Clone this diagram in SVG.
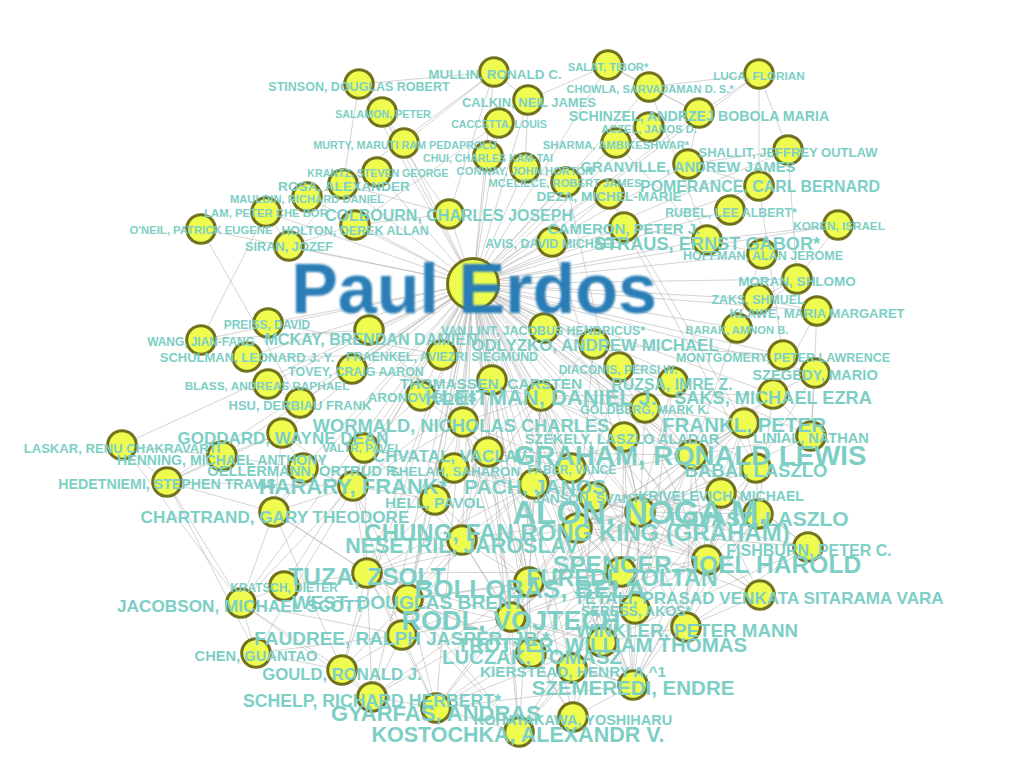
<svg xmlns="http://www.w3.org/2000/svg" width="1024" height="768" viewBox="0 0 1024 768">
<style>
.e{stroke:#a4a4a4;stroke-width:0.6;stroke-opacity:0.8;fill:none}
.n circle{fill:#eefc50;stroke:#72721e;stroke-width:3}
.l{font-family:"Liberation Sans",Arial,sans-serif;font-weight:bold;fill:#7dcfc5;text-anchor:middle}
.big{font-family:"Liberation Sans",Arial,sans-serif;font-weight:bold;fill:#2c7db6;text-anchor:middle}
</style>
<defs>
<filter id="soft" x="-5%" y="-20%" width="110%" height="140%"><feGaussianBlur stdDeviation="1.3"/></filter>
</defs>
<rect width="1024" height="768" fill="#ffffff"/>
<g id="connectors">
<g id="erdos-edges">
<line class="e" x1="473" y1="284" x2="359" y2="84"/>
<line class="e" x1="473" y1="284" x2="382" y2="112"/>
<line class="e" x1="473" y1="284" x2="404" y2="143"/>
<line class="e" x1="473" y1="284" x2="377" y2="172"/>
<line class="e" x1="473" y1="284" x2="343" y2="184"/>
<line class="e" x1="473" y1="284" x2="307" y2="197"/>
<line class="e" x1="473" y1="284" x2="266" y2="212"/>
<line class="e" x1="473" y1="284" x2="201" y2="229"/>
<line class="e" x1="473" y1="284" x2="355" y2="225"/>
<line class="e" x1="473" y1="284" x2="289" y2="246"/>
<line class="e" x1="473" y1="284" x2="494" y2="72"/>
<line class="e" x1="473" y1="284" x2="528" y2="100"/>
<line class="e" x1="473" y1="284" x2="499" y2="123"/>
<line class="e" x1="473" y1="284" x2="488" y2="156"/>
<line class="e" x1="473" y1="284" x2="525" y2="168"/>
<line class="e" x1="473" y1="284" x2="566" y2="182"/>
<line class="e" x1="473" y1="284" x2="609" y2="194"/>
<line class="e" x1="473" y1="284" x2="449" y2="214"/>
<line class="e" x1="473" y1="284" x2="552" y2="242"/>
<line class="e" x1="473" y1="284" x2="624" y2="227"/>
<line class="e" x1="473" y1="284" x2="707" y2="240"/>
<line class="e" x1="473" y1="284" x2="608" y2="65"/>
<line class="e" x1="473" y1="284" x2="649" y2="87"/>
<line class="e" x1="473" y1="284" x2="699" y2="113"/>
<line class="e" x1="473" y1="284" x2="649" y2="127"/>
<line class="e" x1="473" y1="284" x2="616" y2="143"/>
<line class="e" x1="473" y1="284" x2="688" y2="164"/>
<line class="e" x1="473" y1="284" x2="759" y2="186"/>
<line class="e" x1="473" y1="284" x2="730" y2="210"/>
<line class="e" x1="473" y1="284" x2="788" y2="150"/>
<line class="e" x1="473" y1="284" x2="759" y2="74"/>
<line class="e" x1="473" y1="284" x2="838" y2="225"/>
<line class="e" x1="473" y1="284" x2="762" y2="254"/>
<line class="e" x1="473" y1="284" x2="797" y2="279"/>
<line class="e" x1="473" y1="284" x2="758" y2="299"/>
<line class="e" x1="473" y1="284" x2="817" y2="311"/>
<line class="e" x1="473" y1="284" x2="737" y2="328"/>
<line class="e" x1="473" y1="284" x2="783" y2="355"/>
<line class="e" x1="473" y1="284" x2="815" y2="373"/>
<line class="e" x1="473" y1="284" x2="773" y2="394"/>
<line class="e" x1="473" y1="284" x2="744" y2="423"/>
<line class="e" x1="473" y1="284" x2="811" y2="436"/>
<line class="e" x1="473" y1="284" x2="692" y2="455"/>
<line class="e" x1="473" y1="284" x2="756" y2="468"/>
<line class="e" x1="473" y1="284" x2="721" y2="493"/>
<line class="e" x1="473" y1="284" x2="758" y2="514"/>
<line class="e" x1="473" y1="284" x2="640" y2="512"/>
<line class="e" x1="473" y1="284" x2="577" y2="528"/>
<line class="e" x1="473" y1="284" x2="594" y2="497"/>
<line class="e" x1="473" y1="284" x2="624" y2="437"/>
<line class="e" x1="473" y1="284" x2="645" y2="408"/>
<line class="e" x1="473" y1="284" x2="673" y2="382"/>
<line class="e" x1="473" y1="284" x2="619" y2="367"/>
<line class="e" x1="473" y1="284" x2="594" y2="344"/>
<line class="e" x1="473" y1="284" x2="544" y2="328"/>
<line class="e" x1="473" y1="284" x2="369" y2="330"/>
<line class="e" x1="473" y1="284" x2="268" y2="323"/>
<line class="e" x1="473" y1="284" x2="201" y2="340"/>
<line class="e" x1="473" y1="284" x2="247" y2="357"/>
<line class="e" x1="473" y1="284" x2="442" y2="355"/>
<line class="e" x1="473" y1="284" x2="352" y2="369"/>
<line class="e" x1="473" y1="284" x2="268" y2="384"/>
<line class="e" x1="473" y1="284" x2="300" y2="403"/>
<line class="e" x1="473" y1="284" x2="492" y2="380"/>
<line class="e" x1="473" y1="284" x2="421" y2="396"/>
<line class="e" x1="473" y1="284" x2="541" y2="396"/>
<line class="e" x1="473" y1="284" x2="463" y2="422"/>
<line class="e" x1="473" y1="284" x2="282" y2="433"/>
<line class="e" x1="473" y1="284" x2="122" y2="445"/>
<line class="e" x1="473" y1="284" x2="222" y2="456"/>
<line class="e" x1="473" y1="284" x2="364" y2="448"/>
<line class="e" x1="473" y1="284" x2="488" y2="452"/>
<line class="e" x1="473" y1="284" x2="454" y2="468"/>
<line class="e" x1="473" y1="284" x2="571" y2="468"/>
<line class="e" x1="473" y1="284" x2="303" y2="468"/>
<line class="e" x1="473" y1="284" x2="353" y2="486"/>
<line class="e" x1="473" y1="284" x2="534" y2="484"/>
<line class="e" x1="473" y1="284" x2="435" y2="500"/>
<line class="e" x1="473" y1="284" x2="167" y2="482"/>
<line class="e" x1="473" y1="284" x2="274" y2="512"/>
<line class="e" x1="473" y1="284" x2="462" y2="540"/>
<line class="e" x1="473" y1="284" x2="367" y2="573"/>
<line class="e" x1="473" y1="284" x2="284" y2="586"/>
<line class="e" x1="473" y1="284" x2="241" y2="603"/>
<line class="e" x1="473" y1="284" x2="408" y2="599"/>
<line class="e" x1="473" y1="284" x2="529" y2="582"/>
<line class="e" x1="473" y1="284" x2="621" y2="572"/>
<line class="e" x1="473" y1="284" x2="707" y2="560"/>
<line class="e" x1="473" y1="284" x2="808" y2="547"/>
<line class="e" x1="473" y1="284" x2="760" y2="595"/>
<line class="e" x1="473" y1="284" x2="635" y2="609"/>
<line class="e" x1="473" y1="284" x2="686" y2="627"/>
<line class="e" x1="473" y1="284" x2="511" y2="617"/>
<line class="e" x1="473" y1="284" x2="402" y2="635"/>
<line class="e" x1="473" y1="284" x2="602" y2="642"/>
<line class="e" x1="473" y1="284" x2="531" y2="653"/>
<line class="e" x1="473" y1="284" x2="572" y2="668"/>
<line class="e" x1="473" y1="284" x2="342" y2="670"/>
<line class="e" x1="473" y1="284" x2="256" y2="653"/>
<line class="e" x1="473" y1="284" x2="633" y2="685"/>
<line class="e" x1="473" y1="284" x2="372" y2="697"/>
<line class="e" x1="473" y1="284" x2="436" y2="708"/>
<line class="e" x1="473" y1="284" x2="573" y2="717"/>
<line class="e" x1="473" y1="284" x2="519" y2="732"/>
</g>
<g id="coauthor-edges">
<line class="e" x1="359" y1="84" x2="494" y2="72"/>
<line class="e" x1="359" y1="84" x2="343" y2="184"/>
<line class="e" x1="359" y1="84" x2="449" y2="214"/>
<line class="e" x1="494" y1="72" x2="449" y2="214"/>
<line class="e" x1="494" y1="72" x2="343" y2="184"/>
<line class="e" x1="494" y1="72" x2="528" y2="100"/>
<line class="e" x1="343" y1="184" x2="449" y2="214"/>
<line class="e" x1="449" y1="214" x2="355" y2="225"/>
<line class="e" x1="355" y1="225" x2="289" y2="246"/>
<line class="e" x1="289" y1="246" x2="343" y2="184"/>
<line class="e" x1="499" y1="123" x2="355" y2="225"/>
<line class="e" x1="382" y1="112" x2="359" y2="84"/>
<line class="e" x1="404" y1="143" x2="382" y2="112"/>
<line class="e" x1="377" y1="172" x2="307" y2="197"/>
<line class="e" x1="266" y1="212" x2="201" y2="340"/>
<line class="e" x1="201" y1="229" x2="300" y2="403"/>
<line class="e" x1="266" y1="212" x2="289" y2="246"/>
<line class="e" x1="525" y1="168" x2="528" y2="100"/>
<line class="e" x1="525" y1="168" x2="566" y2="182"/>
<line class="e" x1="488" y1="156" x2="499" y2="123"/>
<line class="e" x1="528" y1="100" x2="608" y2="65"/>
<line class="e" x1="494" y1="72" x2="404" y2="143"/>
<line class="e" x1="759" y1="74" x2="759" y2="186"/>
<line class="e" x1="759" y1="74" x2="788" y2="150"/>
<line class="e" x1="759" y1="74" x2="699" y2="113"/>
<line class="e" x1="759" y1="74" x2="649" y2="87"/>
<line class="e" x1="759" y1="186" x2="688" y2="164"/>
<line class="e" x1="759" y1="186" x2="788" y2="150"/>
<line class="e" x1="759" y1="186" x2="730" y2="210"/>
<line class="e" x1="759" y1="186" x2="707" y2="240"/>
<line class="e" x1="688" y1="164" x2="788" y2="150"/>
<line class="e" x1="688" y1="164" x2="699" y2="113"/>
<line class="e" x1="699" y1="113" x2="649" y2="87"/>
<line class="e" x1="699" y1="113" x2="649" y2="127"/>
<line class="e" x1="608" y1="65" x2="699" y2="113"/>
<line class="e" x1="608" y1="65" x2="649" y2="87"/>
<line class="e" x1="649" y1="87" x2="707" y2="240"/>
<line class="e" x1="707" y1="240" x2="730" y2="210"/>
<line class="e" x1="707" y1="240" x2="838" y2="225"/>
<line class="e" x1="707" y1="240" x2="762" y2="254"/>
<line class="e" x1="707" y1="240" x2="624" y2="227"/>
<line class="e" x1="616" y1="143" x2="649" y2="127"/>
<line class="e" x1="616" y1="143" x2="707" y2="240"/>
<line class="e" x1="838" y1="225" x2="797" y2="279"/>
<line class="e" x1="788" y1="150" x2="797" y2="279"/>
<line class="e" x1="797" y1="279" x2="758" y2="299"/>
<line class="e" x1="758" y1="299" x2="817" y2="311"/>
<line class="e" x1="817" y1="311" x2="773" y2="394"/>
<line class="e" x1="817" y1="311" x2="811" y2="436"/>
<line class="e" x1="737" y1="328" x2="797" y2="279"/>
<line class="e" x1="783" y1="355" x2="594" y2="344"/>
<line class="e" x1="783" y1="355" x2="759" y2="186"/>
<line class="e" x1="815" y1="373" x2="756" y2="468"/>
<line class="e" x1="815" y1="373" x2="773" y2="394"/>
<line class="e" x1="815" y1="373" x2="811" y2="436"/>
<line class="e" x1="773" y1="394" x2="811" y2="436"/>
<line class="e" x1="773" y1="394" x2="541" y2="396"/>
<line class="e" x1="773" y1="394" x2="640" y2="512"/>
<line class="e" x1="811" y1="436" x2="640" y2="512"/>
<line class="e" x1="744" y1="423" x2="621" y2="572"/>
<line class="e" x1="744" y1="423" x2="756" y2="468"/>
<line class="e" x1="744" y1="423" x2="640" y2="512"/>
<line class="e" x1="744" y1="423" x2="511" y2="617"/>
<line class="e" x1="744" y1="423" x2="692" y2="455"/>
<line class="e" x1="744" y1="423" x2="577" y2="528"/>
<line class="e" x1="609" y1="194" x2="624" y2="227"/>
<line class="e" x1="609" y1="194" x2="744" y2="423"/>
<line class="e" x1="609" y1="194" x2="552" y2="242"/>
<line class="e" x1="624" y1="227" x2="756" y2="468"/>
<line class="e" x1="762" y1="254" x2="692" y2="455"/>
<line class="e" x1="692" y1="455" x2="577" y2="528"/>
<line class="e" x1="692" y1="455" x2="707" y2="560"/>
<line class="e" x1="692" y1="455" x2="619" y2="367"/>
<line class="e" x1="692" y1="455" x2="594" y2="344"/>
<line class="e" x1="692" y1="455" x2="511" y2="617"/>
<line class="e" x1="692" y1="455" x2="602" y2="642"/>
<line class="e" x1="692" y1="455" x2="686" y2="627"/>
<line class="e" x1="692" y1="455" x2="808" y2="547"/>
<line class="e" x1="692" y1="455" x2="534" y2="484"/>
<line class="e" x1="577" y1="528" x2="808" y2="547"/>
<line class="e" x1="577" y1="528" x2="707" y2="560"/>
<line class="e" x1="577" y1="528" x2="640" y2="512"/>
<line class="e" x1="577" y1="528" x2="619" y2="367"/>
<line class="e" x1="577" y1="528" x2="541" y2="396"/>
<line class="e" x1="577" y1="528" x2="633" y2="685"/>
<line class="e" x1="577" y1="528" x2="602" y2="642"/>
<line class="e" x1="577" y1="528" x2="760" y2="595"/>
<line class="e" x1="640" y1="512" x2="707" y2="560"/>
<line class="e" x1="640" y1="512" x2="621" y2="572"/>
<line class="e" x1="640" y1="512" x2="721" y2="493"/>
<line class="e" x1="640" y1="512" x2="756" y2="468"/>
<line class="e" x1="640" y1="512" x2="758" y2="514"/>
<line class="e" x1="640" y1="512" x2="541" y2="396"/>
<line class="e" x1="640" y1="512" x2="534" y2="484"/>
<line class="e" x1="640" y1="512" x2="511" y2="617"/>
<line class="e" x1="640" y1="512" x2="760" y2="595"/>
<line class="e" x1="640" y1="512" x2="635" y2="609"/>
<line class="e" x1="640" y1="512" x2="573" y2="717"/>
<line class="e" x1="640" y1="512" x2="633" y2="685"/>
<line class="e" x1="640" y1="512" x2="594" y2="497"/>
<line class="e" x1="640" y1="512" x2="531" y2="653"/>
<line class="e" x1="640" y1="512" x2="673" y2="382"/>
<line class="e" x1="640" y1="512" x2="529" y2="582"/>
<line class="e" x1="640" y1="512" x2="367" y2="573"/>
<line class="e" x1="640" y1="512" x2="462" y2="540"/>
<line class="e" x1="640" y1="512" x2="645" y2="408"/>
<line class="e" x1="640" y1="512" x2="624" y2="437"/>
<line class="e" x1="758" y1="514" x2="756" y2="468"/>
<line class="e" x1="758" y1="514" x2="534" y2="484"/>
<line class="e" x1="758" y1="514" x2="633" y2="685"/>
<line class="e" x1="758" y1="514" x2="773" y2="394"/>
<line class="e" x1="756" y1="468" x2="635" y2="609"/>
<line class="e" x1="756" y1="468" x2="633" y2="685"/>
<line class="e" x1="721" y1="493" x2="531" y2="653"/>
<line class="e" x1="721" y1="493" x2="707" y2="560"/>
<line class="e" x1="707" y1="560" x2="594" y2="497"/>
<line class="e" x1="707" y1="560" x2="531" y2="653"/>
<line class="e" x1="707" y1="560" x2="534" y2="484"/>
<line class="e" x1="707" y1="560" x2="686" y2="627"/>
<line class="e" x1="707" y1="560" x2="760" y2="595"/>
<line class="e" x1="707" y1="560" x2="633" y2="685"/>
<line class="e" x1="808" y1="547" x2="602" y2="642"/>
<line class="e" x1="808" y1="547" x2="686" y2="627"/>
<line class="e" x1="602" y1="642" x2="572" y2="668"/>
<line class="e" x1="602" y1="642" x2="686" y2="627"/>
<line class="e" x1="572" y1="668" x2="633" y2="685"/>
<line class="e" x1="572" y1="668" x2="519" y2="732"/>
<line class="e" x1="633" y1="685" x2="511" y2="617"/>
<line class="e" x1="633" y1="685" x2="621" y2="572"/>
<line class="e" x1="633" y1="685" x2="573" y2="717"/>
<line class="e" x1="633" y1="685" x2="531" y2="653"/>
<line class="e" x1="633" y1="685" x2="436" y2="708"/>
<line class="e" x1="633" y1="685" x2="534" y2="484"/>
<line class="e" x1="511" y1="617" x2="573" y2="717"/>
<line class="e" x1="511" y1="617" x2="531" y2="653"/>
<line class="e" x1="511" y1="617" x2="519" y2="732"/>
<line class="e" x1="511" y1="617" x2="462" y2="540"/>
<line class="e" x1="511" y1="617" x2="367" y2="573"/>
<line class="e" x1="511" y1="617" x2="529" y2="582"/>
<line class="e" x1="511" y1="617" x2="621" y2="572"/>
<line class="e" x1="621" y1="572" x2="519" y2="732"/>
<line class="e" x1="621" y1="572" x2="436" y2="708"/>
<line class="e" x1="621" y1="572" x2="367" y2="573"/>
<line class="e" x1="621" y1="572" x2="534" y2="484"/>
<line class="e" x1="621" y1="572" x2="541" y2="396"/>
<line class="e" x1="621" y1="572" x2="408" y2="599"/>
<line class="e" x1="519" y1="732" x2="408" y2="599"/>
<line class="e" x1="519" y1="732" x2="436" y2="708"/>
<line class="e" x1="408" y1="599" x2="367" y2="573"/>
<line class="e" x1="408" y1="599" x2="436" y2="708"/>
<line class="e" x1="408" y1="599" x2="572" y2="668"/>
<line class="e" x1="408" y1="599" x2="602" y2="642"/>
<line class="e" x1="436" y1="708" x2="402" y2="635"/>
<line class="e" x1="436" y1="708" x2="372" y2="697"/>
<line class="e" x1="436" y1="708" x2="367" y2="573"/>
<line class="e" x1="402" y1="635" x2="372" y2="697"/>
<line class="e" x1="402" y1="635" x2="342" y2="670"/>
<line class="e" x1="402" y1="635" x2="241" y2="603"/>
<line class="e" x1="402" y1="635" x2="256" y2="653"/>
<line class="e" x1="402" y1="635" x2="511" y2="617"/>
<line class="e" x1="402" y1="635" x2="353" y2="486"/>
<line class="e" x1="372" y1="697" x2="342" y2="670"/>
<line class="e" x1="372" y1="697" x2="241" y2="603"/>
<line class="e" x1="342" y1="670" x2="241" y2="603"/>
<line class="e" x1="342" y1="670" x2="256" y2="653"/>
<line class="e" x1="241" y1="603" x2="122" y2="445"/>
<line class="e" x1="241" y1="603" x2="167" y2="482"/>
<line class="e" x1="241" y1="603" x2="256" y2="653"/>
<line class="e" x1="241" y1="603" x2="274" y2="512"/>
<line class="e" x1="241" y1="603" x2="353" y2="486"/>
<line class="e" x1="241" y1="603" x2="284" y2="586"/>
<line class="e" x1="256" y1="653" x2="167" y2="482"/>
<line class="e" x1="353" y1="486" x2="274" y2="512"/>
<line class="e" x1="353" y1="486" x2="167" y2="482"/>
<line class="e" x1="353" y1="486" x2="303" y2="468"/>
<line class="e" x1="353" y1="486" x2="463" y2="422"/>
<line class="e" x1="353" y1="486" x2="282" y2="433"/>
<line class="e" x1="274" y1="512" x2="303" y2="468"/>
<line class="e" x1="274" y1="512" x2="282" y2="433"/>
<line class="e" x1="274" y1="512" x2="167" y2="482"/>
<line class="e" x1="303" y1="468" x2="282" y2="433"/>
<line class="e" x1="303" y1="468" x2="222" y2="456"/>
<line class="e" x1="282" y1="433" x2="222" y2="456"/>
<line class="e" x1="282" y1="433" x2="167" y2="482"/>
<line class="e" x1="222" y1="456" x2="167" y2="482"/>
<line class="e" x1="222" y1="456" x2="122" y2="445"/>
<line class="e" x1="122" y1="445" x2="167" y2="482"/>
<line class="e" x1="367" y1="573" x2="462" y2="540"/>
<line class="e" x1="462" y1="540" x2="435" y2="500"/>
<line class="e" x1="462" y1="540" x2="534" y2="484"/>
<line class="e" x1="462" y1="540" x2="364" y2="448"/>
<line class="e" x1="534" y1="484" x2="364" y2="448"/>
<line class="e" x1="534" y1="484" x2="421" y2="396"/>
<line class="e" x1="534" y1="484" x2="624" y2="437"/>
<line class="e" x1="421" y1="396" x2="364" y2="448"/>
<line class="e" x1="463" y1="422" x2="369" y2="330"/>
<line class="e" x1="369" y1="330" x2="201" y2="340"/>
<line class="e" x1="492" y1="380" x2="463" y2="422"/>
<line class="e" x1="541" y1="396" x2="594" y2="344"/>
<line class="e" x1="594" y1="497" x2="531" y2="653"/>
<line class="e" x1="529" y1="582" x2="531" y2="653"/>
<line class="e" x1="529" y1="582" x2="492" y2="380"/>
<line class="e" x1="686" y1="627" x2="760" y2="595"/>
<line class="e" x1="541" y1="396" x2="454" y2="468"/>
<line class="e" x1="488" y1="452" x2="571" y2="468"/>
<line class="e" x1="488" y1="452" x2="692" y2="455"/>
<line class="e" x1="435" y1="500" x2="488" y2="452"/>
<line class="e" x1="645" y1="408" x2="744" y2="423"/>
<line class="e" x1="300" y1="403" x2="268" y2="384"/>
<line class="e" x1="247" y1="357" x2="442" y2="355"/>
<line class="e" x1="268" y1="323" x2="442" y2="355"/>
<line class="e" x1="352" y1="369" x2="541" y2="396"/>
<line class="e" x1="544" y1="328" x2="692" y2="455"/>
<line class="e" x1="552" y1="242" x2="640" y2="512"/>
<line class="e" x1="566" y1="182" x2="640" y2="512"/>
<line class="e" x1="284" y1="586" x2="367" y2="573"/>
<line class="e" x1="408" y1="599" x2="353" y2="486"/>
<line class="e" x1="454" y1="468" x2="640" y2="512"/>
<line class="e" x1="541" y1="396" x2="463" y2="422"/>
<line class="e" x1="541" y1="396" x2="492" y2="380"/>
<line class="e" x1="541" y1="396" x2="534" y2="484"/>
<line class="e" x1="541" y1="396" x2="645" y2="408"/>
<line class="e" x1="541" y1="396" x2="624" y2="437"/>
<line class="e" x1="541" y1="396" x2="529" y2="582"/>
<line class="e" x1="541" y1="396" x2="408" y2="599"/>
<line class="e" x1="541" y1="396" x2="692" y2="455"/>
<line class="e" x1="492" y1="380" x2="353" y2="486"/>
<line class="e" x1="492" y1="380" x2="488" y2="452"/>
<line class="e" x1="492" y1="380" x2="462" y2="540"/>
<line class="e" x1="492" y1="380" x2="367" y2="573"/>
<line class="e" x1="463" y1="422" x2="488" y2="452"/>
<line class="e" x1="463" y1="422" x2="571" y2="468"/>
<line class="e" x1="463" y1="422" x2="511" y2="617"/>
<line class="e" x1="463" y1="422" x2="529" y2="582"/>
<line class="e" x1="463" y1="422" x2="531" y2="653"/>
<line class="e" x1="488" y1="452" x2="633" y2="685"/>
<line class="e" x1="488" y1="452" x2="462" y2="540"/>
<line class="e" x1="488" y1="452" x2="529" y2="582"/>
<line class="e" x1="454" y1="468" x2="435" y2="500"/>
<line class="e" x1="454" y1="468" x2="707" y2="560"/>
<line class="e" x1="571" y1="468" x2="577" y2="528"/>
<line class="e" x1="571" y1="468" x2="534" y2="484"/>
<line class="e" x1="534" y1="484" x2="529" y2="582"/>
<line class="e" x1="534" y1="484" x2="367" y2="573"/>
<line class="e" x1="534" y1="484" x2="511" y2="617"/>
<line class="e" x1="534" y1="484" x2="408" y2="599"/>
<line class="e" x1="435" y1="500" x2="367" y2="573"/>
<line class="e" x1="435" y1="500" x2="529" y2="582"/>
<line class="e" x1="435" y1="500" x2="408" y2="599"/>
<line class="e" x1="594" y1="497" x2="529" y2="582"/>
<line class="e" x1="594" y1="497" x2="511" y2="617"/>
<line class="e" x1="594" y1="497" x2="573" y2="717"/>
<line class="e" x1="624" y1="437" x2="707" y2="560"/>
<line class="e" x1="624" y1="437" x2="621" y2="572"/>
<line class="e" x1="624" y1="437" x2="633" y2="685"/>
<line class="e" x1="645" y1="408" x2="577" y2="528"/>
<line class="e" x1="673" y1="382" x2="692" y2="455"/>
<line class="e" x1="673" y1="382" x2="633" y2="685"/>
<line class="e" x1="619" y1="367" x2="707" y2="560"/>
<line class="e" x1="594" y1="344" x2="577" y2="528"/>
<line class="e" x1="462" y1="540" x2="529" y2="582"/>
<line class="e" x1="462" y1="540" x2="408" y2="599"/>
<line class="e" x1="462" y1="540" x2="402" y2="635"/>
<line class="e" x1="462" y1="540" x2="531" y2="653"/>
<line class="e" x1="529" y1="582" x2="408" y2="599"/>
<line class="e" x1="529" y1="582" x2="621" y2="572"/>
<line class="e" x1="529" y1="582" x2="436" y2="708"/>
<line class="e" x1="529" y1="582" x2="402" y2="635"/>
<line class="e" x1="529" y1="582" x2="372" y2="697"/>
<line class="e" x1="529" y1="582" x2="519" y2="732"/>
<line class="e" x1="367" y1="573" x2="402" y2="635"/>
<line class="e" x1="367" y1="573" x2="372" y2="697"/>
<line class="e" x1="367" y1="573" x2="519" y2="732"/>
<line class="e" x1="367" y1="573" x2="353" y2="486"/>
<line class="e" x1="408" y1="599" x2="531" y2="653"/>
<line class="e" x1="408" y1="599" x2="342" y2="670"/>
<line class="e" x1="408" y1="599" x2="274" y2="512"/>
<line class="e" x1="511" y1="617" x2="436" y2="708"/>
<line class="e" x1="511" y1="617" x2="372" y2="697"/>
<line class="e" x1="511" y1="617" x2="602" y2="642"/>
<line class="e" x1="511" y1="617" x2="707" y2="560"/>
<line class="e" x1="621" y1="572" x2="602" y2="642"/>
<line class="e" x1="621" y1="572" x2="572" y2="668"/>
<line class="e" x1="621" y1="572" x2="635" y2="609"/>
<line class="e" x1="621" y1="572" x2="707" y2="560"/>
<line class="e" x1="602" y1="642" x2="519" y2="732"/>
<line class="e" x1="602" y1="642" x2="436" y2="708"/>
<line class="e" x1="531" y1="653" x2="573" y2="717"/>
<line class="e" x1="531" y1="653" x2="436" y2="708"/>
<line class="e" x1="342" y1="670" x2="367" y2="573"/>
<line class="e" x1="577" y1="528" x2="686" y2="627"/>
<line class="e" x1="577" y1="528" x2="529" y2="582"/>
<line class="e" x1="577" y1="528" x2="531" y2="653"/>
<line class="e" x1="640" y1="512" x2="602" y2="642"/>
<line class="e" x1="640" y1="512" x2="808" y2="547"/>
<line class="e" x1="640" y1="512" x2="686" y2="627"/>
<line class="e" x1="692" y1="455" x2="760" y2="595"/>
<line class="e" x1="692" y1="455" x2="635" y2="609"/>
<line class="e" x1="692" y1="455" x2="758" y2="514"/>
<line class="e" x1="756" y1="468" x2="707" y2="560"/>
<line class="e" x1="758" y1="514" x2="707" y2="560"/>
<line class="e" x1="758" y1="514" x2="686" y2="627"/>
<line class="e" x1="721" y1="493" x2="621" y2="572"/>
<line class="e" x1="744" y1="423" x2="707" y2="560"/>
<line class="e" x1="744" y1="423" x2="633" y2="685"/>
<line class="e" x1="773" y1="394" x2="692" y2="455"/>
<line class="e" x1="811" y1="436" x2="692" y2="455"/>
<line class="e" x1="353" y1="486" x2="435" y2="500"/>
<line class="e" x1="364" y1="448" x2="367" y2="573"/>
<line class="e" x1="274" y1="512" x2="367" y2="573"/>
<line class="e" x1="274" y1="512" x2="342" y2="670"/>
</g>
</g>
<g id="nodes">
<g id="n-erdos" class="n"><circle cx="473" cy="284" r="25.5"/></g>
<g id="n-stinson" class="n"><circle cx="359" cy="84" r="14.3"/></g>
<g id="n-salamon" class="n"><circle cx="382" cy="112" r="14.3"/></g>
<g id="n-murty" class="n"><circle cx="404" cy="143" r="14.3"/></g>
<g id="n-krantz" class="n"><circle cx="377" cy="172" r="14.3"/></g>
<g id="n-rosa" class="n"><circle cx="343" cy="184" r="14.3"/></g>
<g id="n-mauldin" class="n"><circle cx="307" cy="197" r="14.3"/></g>
<g id="n-lam" class="n"><circle cx="266" cy="212" r="14.3"/></g>
<g id="n-oneil" class="n"><circle cx="201" cy="229" r="14.3"/></g>
<g id="n-holton" class="n"><circle cx="355" cy="225" r="14.3"/></g>
<g id="n-siran" class="n"><circle cx="289" cy="246" r="14.3"/></g>
<g id="n-mullin" class="n"><circle cx="494" cy="72" r="14.3"/></g>
<g id="n-calkin" class="n"><circle cx="528" cy="100" r="14.3"/></g>
<g id="n-caccetta" class="n"><circle cx="499" cy="123" r="14.3"/></g>
<g id="n-chui" class="n"><circle cx="488" cy="156" r="14.3"/></g>
<g id="n-conway" class="n"><circle cx="525" cy="168" r="14.3"/></g>
<g id="n-mceliece" class="n"><circle cx="566" cy="182" r="14.3"/></g>
<g id="n-deza" class="n"><circle cx="609" cy="194" r="14.3"/></g>
<g id="n-colbourn" class="n"><circle cx="449" cy="214" r="14.3"/></g>
<g id="n-avis" class="n"><circle cx="552" cy="242" r="14.3"/></g>
<g id="n-cameron" class="n"><circle cx="624" cy="227" r="14.3"/></g>
<g id="n-straus" class="n"><circle cx="707" cy="240" r="14.3"/></g>
<g id="n-salat" class="n"><circle cx="608" cy="65" r="14.3"/></g>
<g id="n-chowla" class="n"><circle cx="649" cy="87" r="14.3"/></g>
<g id="n-schinzel" class="n"><circle cx="699" cy="113" r="14.3"/></g>
<g id="n-aczel" class="n"><circle cx="649" cy="127" r="14.3"/></g>
<g id="n-sharma" class="n"><circle cx="616" cy="143" r="14.3"/></g>
<g id="n-granville" class="n"><circle cx="688" cy="164" r="14.3"/></g>
<g id="n-pomerance" class="n"><circle cx="759" cy="186" r="14.3"/></g>
<g id="n-rubel" class="n"><circle cx="730" cy="210" r="14.3"/></g>
<g id="n-shallit" class="n"><circle cx="788" cy="150" r="14.3"/></g>
<g id="n-luca" class="n"><circle cx="759" cy="74" r="14.3"/></g>
<g id="n-koren" class="n"><circle cx="838" cy="225" r="14.3"/></g>
<g id="n-hoffman" class="n"><circle cx="762" cy="254" r="14.3"/></g>
<g id="n-moran" class="n"><circle cx="797" cy="279" r="14.3"/></g>
<g id="n-zaks" class="n"><circle cx="758" cy="299" r="14.3"/></g>
<g id="n-klawe" class="n"><circle cx="817" cy="311" r="14.3"/></g>
<g id="n-barak" class="n"><circle cx="737" cy="328" r="14.3"/></g>
<g id="n-montgomery" class="n"><circle cx="783" cy="355" r="14.3"/></g>
<g id="n-szegedy" class="n"><circle cx="815" cy="373" r="14.3"/></g>
<g id="n-saks" class="n"><circle cx="773" cy="394" r="14.3"/></g>
<g id="n-frankl" class="n"><circle cx="744" cy="423" r="14.3"/></g>
<g id="n-linial" class="n"><circle cx="811" cy="436" r="14.3"/></g>
<g id="n-graham" class="n"><circle cx="692" cy="455" r="14.3"/></g>
<g id="n-babai" class="n"><circle cx="756" cy="468" r="14.3"/></g>
<g id="n-krivelevich" class="n"><circle cx="721" cy="493" r="14.3"/></g>
<g id="n-lovasz" class="n"><circle cx="758" cy="514" r="14.3"/></g>
<g id="n-alon" class="n"><circle cx="640" cy="512" r="14.3"/></g>
<g id="n-chung" class="n"><circle cx="577" cy="528" r="14.3"/></g>
<g id="n-janson" class="n"><circle cx="594" cy="497" r="14.3"/></g>
<g id="n-szekely" class="n"><circle cx="624" cy="437" r="14.3"/></g>
<g id="n-goldberg" class="n"><circle cx="645" cy="408" r="14.3"/></g>
<g id="n-ruzsa" class="n"><circle cx="673" cy="382" r="14.3"/></g>
<g id="n-diaconis" class="n"><circle cx="619" cy="367" r="14.3"/></g>
<g id="n-odlyzko" class="n"><circle cx="594" cy="344" r="14.3"/></g>
<g id="n-vanlint" class="n"><circle cx="544" cy="328" r="14.3"/></g>
<g id="n-mckay" class="n"><circle cx="369" cy="330" r="14.3"/></g>
<g id="n-preiss" class="n"><circle cx="268" cy="323" r="14.3"/></g>
<g id="n-wang" class="n"><circle cx="201" cy="340" r="14.3"/></g>
<g id="n-schulman" class="n"><circle cx="247" cy="357" r="14.3"/></g>
<g id="n-fraenkel" class="n"><circle cx="442" cy="355" r="14.3"/></g>
<g id="n-tovey" class="n"><circle cx="352" cy="369" r="14.3"/></g>
<g id="n-blass" class="n"><circle cx="268" cy="384" r="14.3"/></g>
<g id="n-hsu" class="n"><circle cx="300" cy="403" r="14.3"/></g>
<g id="n-thomassen" class="n"><circle cx="492" cy="380" r="14.3"/></g>
<g id="n-aronov" class="n"><circle cx="421" cy="396" r="14.3"/></g>
<g id="n-kleitman" class="n"><circle cx="541" cy="396" r="14.3"/></g>
<g id="n-wormald" class="n"><circle cx="463" cy="422" r="14.3"/></g>
<g id="n-goddard" class="n"><circle cx="282" cy="433" r="14.3"/></g>
<g id="n-laskar" class="n"><circle cx="122" cy="445" r="14.3"/></g>
<g id="n-henning" class="n"><circle cx="222" cy="456" r="14.3"/></g>
<g id="n-valtr" class="n"><circle cx="364" cy="448" r="14.3"/></g>
<g id="n-chvatal" class="n"><circle cx="488" cy="452" r="14.3"/></g>
<g id="n-shelah" class="n"><circle cx="454" cy="468" r="14.3"/></g>
<g id="n-faber" class="n"><circle cx="571" cy="468" r="14.3"/></g>
<g id="n-oellermann" class="n"><circle cx="303" cy="468" r="14.3"/></g>
<g id="n-harary" class="n"><circle cx="353" cy="486" r="14.3"/></g>
<g id="n-pach" class="n"><circle cx="534" cy="484" r="14.3"/></g>
<g id="n-hell" class="n"><circle cx="435" cy="500" r="14.3"/></g>
<g id="n-hedetniemi" class="n"><circle cx="167" cy="482" r="14.3"/></g>
<g id="n-chartrand" class="n"><circle cx="274" cy="512" r="14.3"/></g>
<g id="n-nesetril" class="n"><circle cx="462" cy="540" r="14.3"/></g>
<g id="n-tuza" class="n"><circle cx="367" cy="573" r="14.3"/></g>
<g id="n-kratsch" class="n"><circle cx="284" cy="586" r="14.3"/></g>
<g id="n-jacobson" class="n"><circle cx="241" cy="603" r="14.3"/></g>
<g id="n-west" class="n"><circle cx="408" cy="599" r="14.3"/></g>
<g id="n-bollobas" class="n"><circle cx="529" cy="582" r="14.3"/></g>
<g id="n-furedi" class="n"><circle cx="621" cy="572" r="14.3"/></g>
<g id="n-spencer" class="n"><circle cx="707" cy="560" r="14.3"/></g>
<g id="n-fishburn" class="n"><circle cx="808" cy="547" r="14.3"/></g>
<g id="n-tetali" class="n"><circle cx="760" cy="595" r="14.3"/></g>
<g id="n-seress" class="n"><circle cx="635" cy="609" r="14.3"/></g>
<g id="n-winkler" class="n"><circle cx="686" cy="627" r="14.3"/></g>
<g id="n-rodl" class="n"><circle cx="511" cy="617" r="14.3"/></g>
<g id="n-faudree" class="n"><circle cx="402" cy="635" r="14.3"/></g>
<g id="n-trotter" class="n"><circle cx="602" cy="642" r="14.3"/></g>
<g id="n-luczak" class="n"><circle cx="531" cy="653" r="14.3"/></g>
<g id="n-kierstead" class="n"><circle cx="572" cy="668" r="14.3"/></g>
<g id="n-gould" class="n"><circle cx="342" cy="670" r="14.3"/></g>
<g id="n-chen" class="n"><circle cx="256" cy="653" r="14.3"/></g>
<g id="n-szemeredi" class="n"><circle cx="633" cy="685" r="14.3"/></g>
<g id="n-schelp" class="n"><circle cx="372" cy="697" r="14.3"/></g>
<g id="n-gyarfas" class="n"><circle cx="436" cy="708" r="14.3"/></g>
<g id="n-kohayakawa" class="n"><circle cx="573" cy="717" r="14.3"/></g>
<g id="n-kostochka" class="n"><circle cx="519" cy="732" r="14.3"/></g>
</g>
<g id="node-labels">
<text id="t-stinson" class="l" x="359" y="90.5" font-size="12.5">STINSON, DOUGLAS ROBERT</text>
<text id="t-salamon" class="l" x="383" y="117.9" font-size="10.7">SALAMON, PETER</text>
<text id="t-murty" class="l" x="405" y="148.9" font-size="10.8">MURTY, MARUTI RAM PEDAPROLU</text>
<text id="t-krantz" class="l" x="378" y="176.8" font-size="10.6">KRANTZ, STEVEN GEORGE</text>
<text id="t-rosa" class="l" x="344" y="190.9" font-size="13.7">ROSA, ALEXANDER</text>
<text id="t-mauldin" class="l" x="307" y="203" font-size="11.2">MAULDIN, RICHARD DANIEL</text>
<text id="t-lam" class="l" x="266" y="217.1" font-size="11.3">LAM, PETER CHE BOR</text>
<text id="t-oneil" class="l" x="201" y="234.1" font-size="11.3">O'NEIL, PATRICK EUGENE</text>
<text id="t-holton" class="l" x="355" y="234.5" font-size="12.5">HOLTON, DEREK ALLAN</text>
<text id="t-siran" class="l" x="289" y="250.6" font-size="12.8">SIRAN, JOZEF</text>
<text id="t-mullin" class="l" x="495" y="78.9" font-size="13.5">MULLIN, RONALD C.</text>
<text id="t-calkin" class="l" x="529" y="106.7" font-size="13">CALKIN, NEIL JAMES</text>
<text id="t-caccetta" class="l" x="499" y="127.8" font-size="10.6">CACCETTA, LOUIS</text>
<text id="t-chui" class="l" x="488" y="161.8" font-size="10.6">CHUI, CHARLES KAM-TAI</text>
<text id="t-conway" class="l" x="525" y="175" font-size="11.2">CONWAY, JOHN HORTON</text>
<text id="t-mceliece" class="l" x="565" y="187" font-size="11.2">MCELIECE, ROBERT JAMES</text>
<text id="t-deza" class="l" x="609" y="200.9" font-size="13.6">DEZA, MICHEL-MARIE</text>
<text id="t-colbourn" class="l" x="449" y="220.8" font-size="16">COLBOURN, CHARLES JOSEPH</text>
<text id="t-avis" class="l" x="552" y="247.5" font-size="12.5">AVIS, DAVID MICHAEL</text>
<text id="t-cameron" class="l" x="624" y="234.4" font-size="15">CAMERON, PETER J.</text>
<text id="t-straus" class="l" x="707" y="249.6" font-size="18.2">STRAUS, ERNST GABOR*</text>
<text id="t-salat" class="l" x="608" y="71" font-size="11.2">SALAT, TIBOR*</text>
<text id="t-chowla" class="l" x="650" y="93" font-size="11.1">CHOWLA, SARVADAMAN D. S.*</text>
<text id="t-schinzel" class="l" x="699" y="121.1" font-size="14.2">SCHINZEL, ANDRZEJ BOBOLA MARIA</text>
<text id="t-aczel" class="l" x="649" y="133" font-size="11.1">ACZEL, JANOS D.</text>
<text id="t-sharma" class="l" x="616" y="149.1" font-size="11.3">SHARMA, AMBIKESHWAR*</text>
<text id="t-granville" class="l" x="688" y="172.3" font-size="14.8">GRANVILLE, ANDREW JAMES</text>
<text id="t-pomerance" class="l" x="760" y="192.4" font-size="15.9">POMERANCE, CARL BERNARD</text>
<text id="t-rubel" class="l" x="731" y="216.5" font-size="12.4">RUBEL, LEE ALBERT*</text>
<text id="t-shallit" class="l" x="788" y="156.7" font-size="13">SHALLIT, JEFFREY OUTLAW</text>
<text id="t-luca" class="l" x="759" y="80.2" font-size="11.8">LUCA, FLORIAN</text>
<text id="t-koren" class="l" x="839" y="230.2" font-size="11.7">KOREN, ISRAEL</text>
<text id="t-hoffman" class="l" x="763" y="259.5" font-size="12.5">HOFFMAN, ALAN JEROME</text>
<text id="t-moran" class="l" x="797" y="285.9" font-size="13.5">MORAN, SHLOMO</text>
<text id="t-zaks" class="l" x="758" y="303.5" font-size="12.4">ZAKS, SHMUEL</text>
<text id="t-klawe" class="l" x="817" y="317.7" font-size="13">KLAWE, MARIA MARGARET</text>
<text id="t-barak" class="l" x="737" y="334" font-size="11.2">BARAK, AMNON B.</text>
<text id="t-montgomery" class="l" x="783" y="361.5" font-size="12.5">MONTGOMERY, PETER LAWRENCE</text>
<text id="t-szegedy" class="l" x="815" y="380.3" font-size="14.7">SZEGEDY, MARIO</text>
<text id="t-saks" class="l" x="773" y="403.6" font-size="18.2">SAKS, MICHAEL EZRA</text>
<text id="t-frankl" class="l" x="744" y="432.4" font-size="20.5">FRANKL, PETER</text>
<text id="t-linial" class="l" x="811" y="443.3" font-size="14.6">LINIAL, NATHAN</text>
<text id="t-graham" class="l" x="690" y="465" font-size="27.6">GRAHAM, RONALD LEWIS</text>
<text id="t-babai" class="l" x="756" y="476.7" font-size="18.5">BABAI, LASZLO</text>
<text id="t-krivelevich" class="l" x="721" y="501" font-size="14">KRIVELEVICH, MICHAEL</text>
<text id="t-lovasz" class="l" x="759" y="525.6" font-size="21">LOVASZ, LASZLO</text>
<text id="t-alon" class="l" x="640" y="524.4" font-size="33">ALON, NOGA M.</text>
<text id="t-chung" class="l" x="577" y="540.5" font-size="24">CHUNG, FAN RONG KING (GRAHAM)</text>
<text id="t-janson" class="l" x="591" y="502.8" font-size="13.3">JANSON, SVANTE</text>
<text id="t-szekely" class="l" x="622" y="444.2" font-size="14.5">SZEKELY, LASZLO ALADAR</text>
<text id="t-goldberg" class="l" x="645" y="414.4" font-size="12.2">GOLDBERG, MARK K.</text>
<text id="t-ruzsa" class="l" x="672" y="389.7" font-size="15.8">RUZSA, IMRE Z.</text>
<text id="t-diaconis" class="l" x="618" y="374.3" font-size="12">DIACONIS, PERSI W.</text>
<text id="t-odlyzko" class="l" x="595" y="351.1" font-size="16.9">ODLYZKO, ANDREW MICHAEL</text>
<text id="t-vanlint" class="l" x="543" y="334.5" font-size="12.4">VAN LINT, JACOBUS HENDRICUS*</text>
<text id="t-mckay" class="l" x="371" y="344.8" font-size="16.1">MCKAY, BRENDAN DAMIEN</text>
<text id="t-preiss" class="l" x="267" y="329.3" font-size="11.9">PREISS, DAVID</text>
<text id="t-wang" class="l" x="201" y="346.3" font-size="11.9">WANG, JIAN-FANG</text>
<text id="t-schulman" class="l" x="247" y="361.7" font-size="13">SCHULMAN, LEONARD J. Y.</text>
<text id="t-fraenkel" class="l" x="442" y="360.5" font-size="12.4">FRAENKEL, AVIEZRI SIEGMUND</text>
<text id="t-tovey" class="l" x="356" y="375.5" font-size="12.4">TOVEY, CRAIG AARON</text>
<text id="t-blass" class="l" x="267" y="390.2" font-size="11.8">BLASS, ANDREAS RAPHAEL</text>
<text id="t-hsu" class="l" x="300" y="409.7" font-size="13">HSU, DERBIAU FRANK</text>
<text id="t-thomassen" class="l" x="491" y="388.6" font-size="15.5">THOMASSEN, CARSTEN</text>
<text id="t-aronov" class="l" x="422" y="401.9" font-size="13.6">ARONOV, BORIS</text>
<text id="t-kleitman" class="l" x="541" y="405" font-size="22">KLEITMAN, DANIEL J.</text>
<text id="t-wormald" class="l" x="461" y="432" font-size="18.3">WORMALD, NICHOLAS CHARLES</text>
<text id="t-goddard" class="l" x="283" y="443.6" font-size="17">GODDARD, WAYNE DEAN</text>
<text id="t-laskar" class="l" x="122" y="452.7" font-size="13.1">LASKAR, RENU CHAKRAVARTI</text>
<text id="t-henning" class="l" x="222" y="465.1" font-size="14.1">HENNING, MICHAEL ANTHONY</text>
<text id="t-valtr" class="l" x="362" y="452.1" font-size="11.5">VALTR, PAVEL</text>
<text id="t-chvatal" class="l" x="450" y="462.1" font-size="17">CHVATAL, VACLAV</text>
<text id="t-shelah" class="l" x="455" y="475.8" font-size="13.4">SHELAH, SAHARON</text>
<text id="t-faber" class="l" x="572" y="474.3" font-size="12">FABER, VANCE</text>
<text id="t-oellermann" class="l" x="304" y="476.3" font-size="14.7">OELLERMANN, ORTRUD R.</text>
<text id="t-harary" class="l" x="353" y="493.5" font-size="22">HARARY, FRANK*</text>
<text id="t-pach" class="l" x="535" y="494" font-size="21">PACH, JANOS</text>
<text id="t-hell" class="l" x="435" y="507.6" font-size="15.5">HELL, PAVOL</text>
<text id="t-hedetniemi" class="l" x="167" y="489.1" font-size="14.2">HEDETNIEMI, STEPHEN TRAVIS</text>
<text id="t-chartrand" class="l" x="275" y="522.5" font-size="17.1">CHARTRAND, GARY THEODORE</text>
<text id="t-nesetril" class="l" x="462" y="552.5" font-size="21.5">NESETRIL, JAROSLAV</text>
<text id="t-tuza" class="l" x="367" y="585" font-size="24.5">TUZA, ZSOLT</text>
<text id="t-kratsch" class="l" x="284" y="592.3" font-size="11.9">KRATSCH, DIETER</text>
<text id="t-jacobson" class="l" x="241" y="612.2" font-size="17.2">JACOBSON, MICHAEL SCOTT</text>
<text id="t-west" class="l" x="408" y="608.5" font-size="19.2">WEST, DOUGLAS BRENT</text>
<text id="t-bollobas" class="l" x="530" y="598" font-size="26">BOLLOBAS, BELA</text>
<text id="t-furedi" class="l" x="622" y="586" font-size="23.4">FUREDI, ZOLTAN</text>
<text id="t-spencer" class="l" x="707" y="573" font-size="24.6">SPENCER, JOEL HAROLD</text>
<text id="t-fishburn" class="l" x="809" y="555.5" font-size="16">FISHBURN, PETER C.</text>
<text id="t-tetali" class="l" x="759" y="603.6" font-size="17.1">TETALI, PRASAD VENKATA SITARAMA VARA</text>
<text id="t-seress" class="l" x="636" y="616" font-size="14">SERESS, AKOS*</text>
<text id="t-winkler" class="l" x="687" y="637" font-size="18.8">WINKLER, PETER MANN</text>
<text id="t-rodl" class="l" x="511" y="630" font-size="27">RODL, VOJTECH</text>
<text id="t-faudree" class="l" x="402" y="644.5" font-size="19">FAUDREE, RALPH JASPER, JR.*</text>
<text id="t-trotter" class="l" x="602" y="652" font-size="20.5">TROTTER, WILLIAM THOMAS</text>
<text id="t-luczak" class="l" x="532" y="663.5" font-size="20.3">LUCZAK, TOMASZ</text>
<text id="t-kierstead" class="l" x="573" y="677" font-size="15.3">KIERSTEAD, HENRY A.^1</text>
<text id="t-gould" class="l" x="342" y="679.5" font-size="16.7">GOULD, RONALD J.</text>
<text id="t-chen" class="l" x="256" y="661.3" font-size="14.7">CHEN, GUANTAO</text>
<text id="t-szemeredi" class="l" x="633" y="695" font-size="20.5">SZEMEREDI, ENDRE</text>
<text id="t-schelp" class="l" x="372" y="707" font-size="17.7">SCHELP, RICHARD HERBERT*</text>
<text id="t-gyarfas" class="l" x="436" y="721" font-size="22">GYARFAS, ANDRAS</text>
<text id="t-kohayakawa" class="l" x="573" y="725" font-size="14.5">KOHAYAKAWA, YOSHIHARU</text>
<text id="t-kostochka" class="l" x="518" y="742.3" font-size="21.5">KOSTOCHKA, ALEXANDR V.</text>
<text id="t-erdos" class="big" x="474" y="313" font-size="70" filter="url(#soft)">Paul Erdos</text>
</g>
</svg>
